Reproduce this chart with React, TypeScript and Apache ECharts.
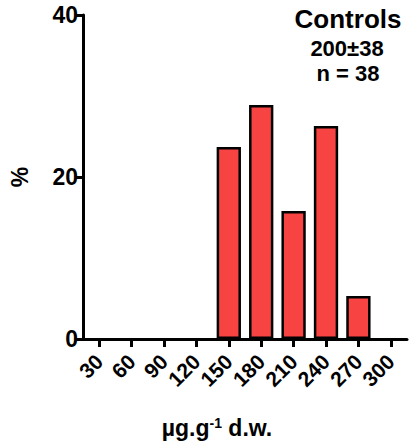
import React, { useEffect, useRef } from "react";
import * as echarts from "echarts";

const categories = ["30", "60", "90", "120", "150", "180", "210", "240", "270", "300"];
const percentValues = [0, 0, 0, 0, 23.7, 28.9, 15.8, 26.3, 5.3, 0];
const yTicks = { min: 0, max: 40, interval: 20 };
const groupTitle = "Controls";
const meanSd = "200±38";
const sampleSize = "n = 38";

const FONT = "'Liberation Sans', Arial, sans-serif";

export default function App() {
  const ref = useRef<HTMLDivElement>(null);
  useEffect(() => {
    if (!ref.current) return;
    const chart = echarts.init(ref.current, null, { renderer: "svg" });
    chart.setOption({
      animation: false,
      backgroundColor: "#ffffff",
      grid: { left: 83, right: 3, top: 15, bottom: 104, containLabel: false },
      xAxis: {
        type: "category",
        data: categories,
        boundaryGap: true,
        axisLine: { show: true, lineStyle: { color: "#000", width: 3 } },
        axisTick: { show: true, alignWithLabel: true, length: 8, lineStyle: { color: "#000", width: 3 } },
        axisLabel: {
          rotate: 45,
          interval: 0,
          margin: 19,
          color: "#000",
          fontFamily: FONT,
          fontWeight: "bold",
          fontSize: 21,
        },
        splitLine: { show: false },
      },
      yAxis: {
        type: "value",
        min: yTicks.min,
        max: yTicks.max,
        interval: yTicks.interval,
        name: "%",
        nameLocation: "middle",
        nameRotate: 90,
        nameGap: 52,
        nameTextStyle: { color: "#000", fontFamily: FONT, fontWeight: "bold", fontSize: 23 },
        axisLine: { show: true, lineStyle: { color: "#000", width: 3 } },
        axisTick: { show: true, length: 7, lineStyle: { color: "#000", width: 3 } },
        axisLabel: { color: "#000", fontFamily: FONT, fontWeight: "bold", fontSize: 23, margin: 5 },
        splitLine: { show: false },
      },
      series: [
        {
          type: "bar",
          data: percentValues.map((v) => (v === 0 ? null : v)),
          barWidth: "75%",
          itemStyle: { color: "#f84343", borderColor: "#000", borderWidth: 2.5 },
        },
      ],
      graphic: [
        {
          type: "text",
          x: 348,
          y: 19,
          style: {
            text: groupTitle,
            fill: "#000",
            font: `bold 26px ${FONT}`,
            textAlign: "center",
            textVerticalAlign: "middle",
          },
        },
        {
          type: "text",
          x: 347,
          y: 48,
          style: {
            text: meanSd,
            fill: "#000",
            font: `bold 22px ${FONT}`,
            textAlign: "center",
            textVerticalAlign: "middle",
          },
        },
        {
          type: "text",
          x: 348,
          y: 73,
          style: {
            text: sampleSize,
            fill: "#000",
            font: `bold 22px ${FONT}`,
            textAlign: "center",
            textVerticalAlign: "middle",
          },
        },
        {
          type: "text",
          x: 217,
          y: 428,
          style: {
            text: "{a|µg.g}{s|-1}{a| d.w.}",
            textAlign: "center",
            textVerticalAlign: "middle",
            rich: {
              a: { fontFamily: FONT, fontWeight: "bold", fontSize: 23, fill: "#000", color: "#000" },
              s: {
                fontFamily: FONT,
                fontWeight: "bold",
                fontSize: 14,
                fill: "#000",
                color: "#000",
                verticalAlign: "top",
                padding: [0, 0, 10, 0],
              },
            },
          },
        },
      ],
    });
    return () => chart.dispose();
  }, []);
  return (
    <div
      ref={ref}
      style={{ position: "fixed", left: 0, top: 0, width: 410, height: 443, background: "#fff" }}
    />
  );
}
